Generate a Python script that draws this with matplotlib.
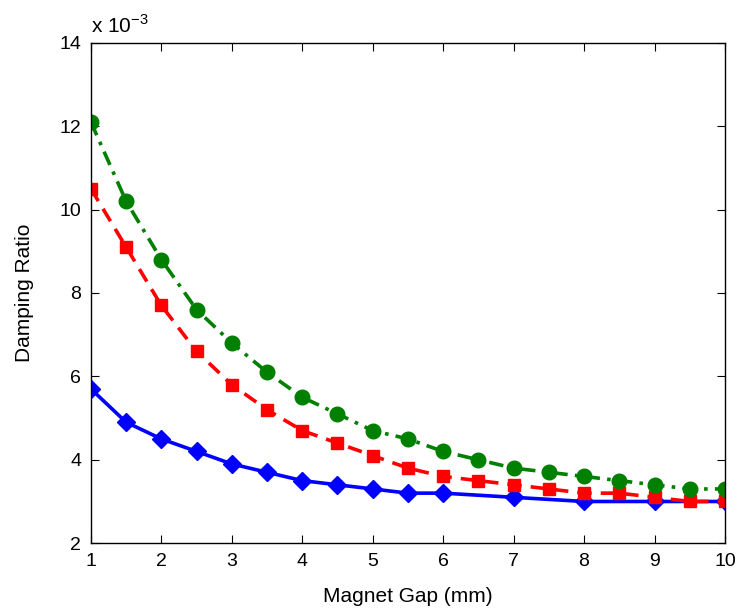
import matplotlib
matplotlib.use("Agg")
import matplotlib.pyplot as plt

plt.rcParams['font.family'] = ['Liberation Sans', 'DejaVu Sans']

# values in units of 1e-3
gap_full = [1, 1.5, 2, 2.5, 3, 3.5, 4, 4.5, 5, 5.5, 6, 6.5, 7, 7.5, 8, 8.5, 9, 9.5, 10]
green = [12.1, 10.2, 8.8, 7.6, 6.8, 6.1, 5.5, 5.1, 4.7, 4.5, 4.2, 4.0, 3.8, 3.7, 3.6, 3.5, 3.4, 3.3, 3.3]
red = [10.5, 9.1, 7.7, 6.6, 5.8, 5.2, 4.7, 4.4, 4.1, 3.8, 3.6, 3.5, 3.4, 3.3, 3.2, 3.2, 3.1, 3.0, 3.0]

gap_blue = [1, 1.5, 2, 2.5, 3, 3.5, 4, 4.5, 5, 5.5, 6, 7, 8, 9, 10]
blue = [5.7, 4.9, 4.5, 4.2, 3.9, 3.7, 3.5, 3.4, 3.3, 3.2, 3.2, 3.1, 3.0, 3.0, 3.0]

fig = plt.figure(figsize=(7.39, 6.11), dpi=100)
ax = fig.add_axes([0.123, 0.111, 0.858, 0.819])

ax.plot(gap_blue, blue, '-', color='blue', lw=2.6, marker='D', ms=9)
ax.plot(gap_full, red, color='red', lw=2.6, marker='s', ms=9, dashes=(4, 2.5))
ax.plot(gap_full, green, color='green', lw=2.6, marker='o', ms=10.5, dashes=(4, 2, 1, 2))

ax.set_xlim(1, 10)
ax.set_ylim(2, 14)
ax.set_xticks(range(1, 11))
ax.set_yticks(range(2, 15, 2))
ax.tick_params(direction='in', top=True, right=True, labelsize=14, length=6, pad=7)
for s in ax.spines.values():
    s.set_linewidth(1.0)

ax.set_xlabel('Magnet Gap (mm)', fontsize=15, labelpad=12)
ax.set_ylabel('Damping Ratio', fontsize=15, labelpad=18)
ax.text(0.0, 1.012, 'x 10$^{\\mathregular{-3}}$', transform=ax.transAxes, fontsize=15, ha='left', va='bottom')

fig.savefig('out.png', dpi=100)
